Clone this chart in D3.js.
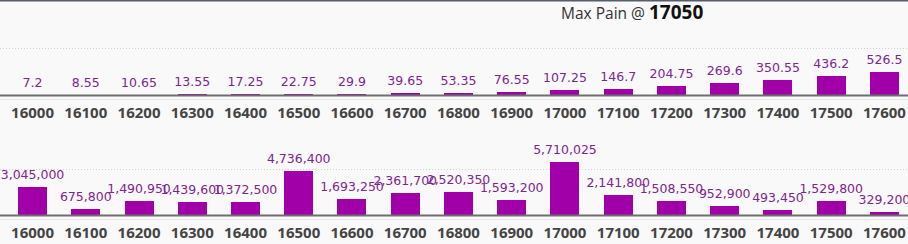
<!DOCTYPE html>
<html>
<head>
<meta charset="utf-8">
<script src="https://cdn.jsdelivr.net/npm/d3@7"></script>
<style>
    html, body { margin: 0; padding: 0; background: #f9f9fa; }
    svg { display: block; }
</style>
</head>
<body>
<div id="chart"></div>
<script>
// strikes shared by both panels
const strikes = ['16000', '16100', '16200', '16300', '16400', '16500', '16600', '16700', '16800',
    '16900', '17000', '17100', '17200', '17300', '17400', '17500', '17600'];

// top panel: premium per strike
const premium = [7.2, 8.55, 10.65, 13.55, 17.25, 22.75, 29.9, 39.65, 53.35, 76.55, 107.25,
    146.7, 204.75, 269.6, 350.55, 436.2, 526.5];

// bottom panel: pain value per strike
const pain = [3045000, 675800, 1490950, 1439600, 1372500, 4736400, 1693250, 2361700, 2520350,
    1593200, 5710025, 2141800, 1508550, 952900, 493450, 1529800, 329200];

const maxPainStrike = '17050';

const width = 908;
const height = 244;
const barColor = '#a100a9';
const labelColor = '#7f2590';

const svg = d3.select('#chart')
    .append('svg')
    .attr('width', width)
    .attr('height', height);

svg.append('rect')
    .attr('width', width).attr('height', height)
    .attr('fill', '#f9f9fa');

// borde superior
svg.append('rect')
    .attr('x', 0).attr('y', 0)
    .attr('width', width).attr('height', 1.5)
    .attr('fill', '#555f6c');

const x = d3.scaleBand()
    .domain(strikes)
    .range([5.9, 911.1])
    .paddingInner(0.455)
    .paddingOuter(0.2275);

function drawPanel(values, yScale, fmt) {
    const g = svg.append('g');
    const base = yScale.range()[0];
    const top = yScale.range()[1];

    // linea de grilla punteada
    g.append('line')
        .attr('x1', 0).attr('x2', width)
        .attr('y1', top + 0.5).attr('y2', top + 0.5)
        .attr('stroke', '#cfcfd4')
        .attr('stroke-dasharray', '1,2');

    g.selectAll('rect.bar')
        .data(values)
        .enter()
        .append('rect')
        .attr('class', 'bar')
        .attr('x', (d, i) => Math.round(x(strikes[i])))
        .attr('width', Math.round(x.bandwidth()))
        .attr('y', d => Math.round(yScale(d)))
        .attr('height', d => base - Math.round(yScale(d)))
        .attr('shape-rendering', 'crispEdges')
        .attr('fill', barColor);

    g.selectAll('text.val')
        .data(values)
        .enter()
        .append('text')
        .attr('class', 'val')
        .attr('x', (d, i) => x(strikes[i]) + x.bandwidth() / 2)
        .attr('y', d => yScale(d) - 8)
        .attr('text-anchor', 'middle')
        .attr('font-family', 'DejaVu Sans, Verdana, sans-serif')
        .attr('font-size', '12.5px')
        .attr('fill', labelColor)
        .text(d => fmt(d));

    // linea base
    g.append('line')
        .attr('x1', 0).attr('x2', width)
        .attr('y1', base + 0.5).attr('y2', base + 0.5)
        .attr('stroke', '#6e6e6e')
        .attr('stroke-width', 2);
    g.append('line')
        .attr('x1', 0).attr('x2', width)
        .attr('y1', base + 4.5).attr('y2', base + 4.5)
        .attr('stroke', '#e6e6e8')
        .attr('stroke-width', 1);

    const axis = d3.axisBottom(x).tickSize(0).tickPadding(0);
    const ax = g.append('g')
        .attr('transform', `translate(0,${base + 23})`)
        .call(axis);
    ax.select('.domain').remove();
    ax.selectAll('text')
        .attr('dy', 0)
        .attr('y', 0)
        .attr('font-family', 'Open Sans, sans-serif')
        .attr('font-weight', 'bold')
        .attr('font-size', '15px')
        .attr('fill', '#444');
}

const yTop = d3.scaleLinear().domain([0, 1070]).range([95, 48]);
const yBottom = d3.scaleLinear().domain([0, 5000000]).range([215, 169]);

drawPanel(premium, yTop, d => String(d));
drawPanel(pain, yBottom, d3.format(','));

// titulo
const title = svg.append('text')
    .attr('x', 561)
    .attr('y', 18.5)
    .attr('font-family', 'Open Sans, sans-serif');
title.append('tspan')
    .attr('font-size', '15.5px')
    .attr('fill', '#333')
    .text('Max Pain @ ');
title.append('tspan')
    .attr('font-size', '19px')
    .attr('font-weight', 'bold')
    .attr('fill', '#111')
    .text(maxPainStrike);
</script>
</body>
</html>
